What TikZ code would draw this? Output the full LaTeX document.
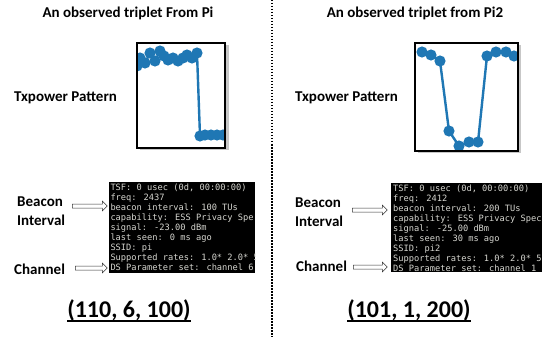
\documentclass[tikz,border=0pt]{standalone}
\usepackage{fontspec}
\setmainfont{Carlito}
\newfontfamily\termfont{DejaVu Sans Mono}
\usetikzlibrary{shapes.arrows}
\definecolor{plotBlue}{RGB}{31,119,180}
\definecolor{termGray}{RGB}{214,214,208}

\begin{document}
\begin{tikzpicture}[x = 1pt, y = -1pt, font=\bfseries]
	\tikzstyle{titleStyle} = [font = \fontsize{15}{18}\selectfont\bfseries, inner sep = 0pt, anchor = base]
	\tikzstyle{labelStyle} = [font = \fontsize{15}{19}\selectfont\bfseries, inner sep = 0pt, align = left]
	\tikzstyle{tripletStyle} = [font = \fontsize{24}{28}\selectfont\bfseries, inner sep = 0pt, anchor = base]
	\tikzstyle{chartStyle} = [fill = white, inner sep = 0pt, anchor = north west]
	\tikzstyle{frameStyle} = [line width = 2pt, draw = black]
	\tikzstyle{shadowStyle} = [fill = black!22]
	\tikzstyle{plotStyle} = [plotBlue, line width = 2.4pt, line join = round]
	\tikzstyle{dotStyle} = [fill = plotBlue]
	\tikzstyle{termStyle} = [fill = black, inner sep = 0pt, anchor = north west]
	\tikzstyle{termText} = [font = \termfont\fontsize{8.7}{10}\selectfont, text = termGray, inner sep = 0pt, anchor = north west, align = left]
	\tikzstyle{hollowArrow} = [single arrow, draw = black!80, fill = white, line width = 0.5pt, text height = 3.5pt, text depth = 0pt, inner sep = 0pt, single arrow head extend = 2.8pt, single arrow head indent = 0pt, anchor = west]
	\useasboundingbox (0,0) rectangle (542,337);

	% divider
	\draw[line width = 1.5pt, dash pattern = on 1.5pt off 1.5pt] (272,0) -- (272,337);

	% left: Pi
	\node[titleStyle] (titleL) at (128,18) {An observed triplet From Pi};
	\node[labelStyle, anchor = base west] (txL) at (14,102) {Txpower Pattern};
	\fill[shadowStyle] (139.5,45.5) rectangle (228.5,150.5);
	\node[chartStyle, minimum width = 88pt, minimum height = 105pt] (chartL) at (137,43) {};
	\begin{scope}
		\clip (chartL.north west) rectangle (chartL.south east);
		\draw[plotStyle] (137,66) -- (140,58) -- (145,63) -- (150,53) -- (155,61) -- (160,51) -- (164,56) -- (168,60) -- (173,58) -- (178,61) -- (183,58) -- (187,55) -- (192,58) -- (197,53) -- (200,136) -- (205,135) -- (211,135) -- (217,135) -- (223,135) -- (228,136);
		\foreach \px/\py in {137/66, 140/58, 145/63, 150/53, 155/61, 160/51, 164/56, 168/60, 173/58, 178/61, 183/58, 187/55, 192/58, 197/53, 200/136, 205/135, 211/135, 217/135, 223/135, 228/136}
			\fill[dotStyle] (\px,\py) circle (5.6pt);
	\end{scope}
	\draw[frameStyle] (chartL.north west) rectangle (chartL.south east);

	\node[termStyle, minimum width = 146pt, minimum height = 91pt] (termL) at (109,182) {};
	\begin{scope}
		\clip (termL.north west) rectangle (termL.south east);
		\node[termText] (logL) at (110.3,183.5) {TSF: 0 usec (0d, 00:00:00)\\freq: 2437\\beacon interval: 100 TUs\\capability: ESS Privacy Spe\\signal: -23.00 dBm\\last seen: 0 ms ago\\SSID: pi\\Supported rates: 1.0* 2.0* 5\\DS Parameter set: channel 6};
	\end{scope}
	\node[labelStyle, anchor = north west] (beaconL) at (17,196.5) {Beacon\\Interval};
	\node[labelStyle, anchor = base west] (channelL) at (14,274) {Channel};
	\node[hollowArrow, minimum height = 35pt] (arrowBL) at (72,206) {};
	\node[hollowArrow, minimum height = 32pt] (arrowCL) at (75,268) {};
	\node[tripletStyle] (tripL) at (129,317) {(110, 6, 100)};
	\draw[line width = 1.8pt] ([yshift = -4pt]tripL.base west) -- ([yshift = -4pt]tripL.base east);

	% right: Pi2
	\node[titleStyle] (titleR) at (415,18) {An observed triplet from Pi2};
	\node[labelStyle, anchor = base west] (txR) at (295,102) {Txpower Pattern};
	\fill[shadowStyle] (417.5,45.5) rectangle (520.5,153.5);
	\node[chartStyle, minimum width = 103pt, minimum height = 108pt] (chartR) at (415,43) {};
	\begin{scope}
		\clip (chartR.north west) rectangle (chartR.south east);
		\draw[plotStyle] (422,52) -- (431,55) -- (440,61) -- (449,131) -- (459,146) -- (469,142) -- (478,142) -- (487,56) -- (496,52) -- (506,52) -- (514,56);
		\foreach \px/\py in {422/52, 431/55, 440/61, 449/131, 459/146, 469/142, 478/142, 487/56, 496/52, 506/52, 514/56}
			\fill[dotStyle] (\px,\py) circle (5.6pt);
	\end{scope}
	\draw[frameStyle] (chartR.north west) rectangle (chartR.south east);

	\node[termStyle, minimum width = 155pt, minimum height = 89pt] (termR) at (391,183) {};
	\begin{scope}
		\clip (termR.north west) rectangle (termR.south east);
		\node[termText] (logR) at (393,184.5) {TSF: 0 usec (0d, 00:00:00)\\freq: 2412\\beacon interval: 200 TUs\\capability: ESS Privacy Spec\\signal: -25.00 dBm\\last seen: 30 ms ago\\SSID: pi2\\Supported rates: 1.0* 2.0* 5\\DS Parameter set: channel 1};
	\end{scope}
	\node[labelStyle, anchor = north west] (beaconR) at (295,197.5) {Beacon\\Interval};
	\node[labelStyle, anchor = base west] (channelR) at (296,272) {Channel};
	\node[hollowArrow, minimum height = 35pt] (arrowBR) at (352,210) {};
	\node[hollowArrow, minimum height = 34pt] (arrowCR) at (353,267) {};
	\node[tripletStyle] (tripR) at (409,317) {(101, 1, 200)};
	\draw[line width = 1.8pt] ([yshift = -4pt]tripR.base west) -- ([yshift = -4pt]tripR.base east);
\end{tikzpicture}
\end{document}
